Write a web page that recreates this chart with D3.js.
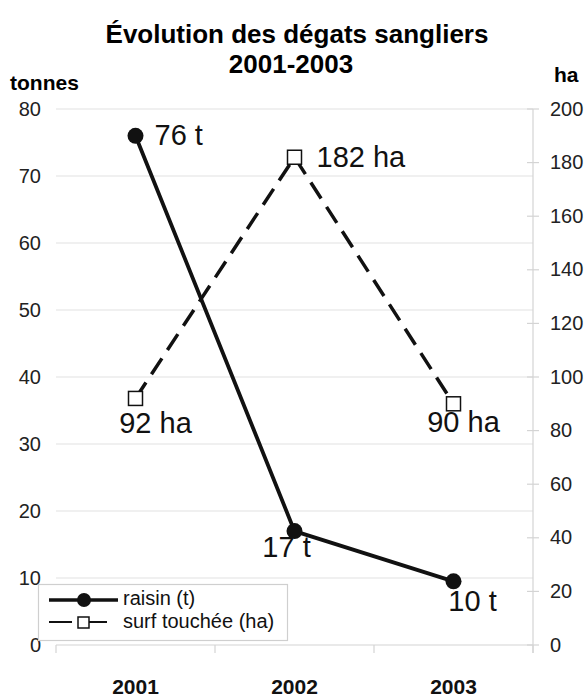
<!DOCTYPE html>
<html>
<head>
<meta charset="utf-8">
<script src="https://cdn.jsdelivr.net/npm/d3@7"></script>
<style>
body { margin: 0; background: #fff; }
text { font-family: "Liberation Sans", Arial, sans-serif; }
</style>
</head>
<body>
<script>
// data
const years = ["2001", "2002", "2003"]
const raisin = [76, 17, 9.5]     // tonnes
const surf = [92, 182, 90]       // ha
const leftTicks = [0, 10, 20, 30, 40, 50, 60, 70, 80]
const rightTicks = [0, 20, 40, 60, 80, 100, 120, 140, 160, 180, 200]

const width = 587, height = 698
const margin = {top: 109, right: 54, bottom: 53, left: 56}

const svg = d3.select("body").append("svg")
    .attr("width", width)
    .attr("height", height)

const x = d3.scaleBand().domain(years).range([margin.left, width - margin.right])
const yL = d3.scaleLinear().domain([0, 80]).range([height - margin.bottom, margin.top])
const yR = d3.scaleLinear().domain([0, 200]).range([height - margin.bottom, margin.top])
const cx = d => x(d) + x.bandwidth() / 2

// grid
svg.append("g").selectAll("line")
    .data(leftTicks.slice(1))
    .enter().append("line")
    .attr("x1", margin.left).attr("x2", width - margin.right)
    .attr("y1", d => yL(d)).attr("y2", d => yL(d))
    .attr("stroke", "#e2e2e2").attr("stroke-width", 1.2)

// left axis labels
svg.append("g").selectAll("text")
    .data(leftTicks)
    .enter().append("text")
    .attr("x", 41).attr("y", d => yL(d) + 6.5)
    .attr("text-anchor", "end")
    .attr("font-size", 20).attr("fill", "#222")
    .text(d => d)

// right axis
const ra = svg.append("g")
ra.append("line")
    .attr("x1", width - margin.right).attr("x2", width - margin.right)
    .attr("y1", yR(200)).attr("y2", yR(0) + 8)
    .attr("stroke", "#d4d4d4").attr("stroke-width", 1.2)
ra.selectAll("line.t").data(rightTicks).enter().append("line")
    .attr("class", "t")
    .attr("x1", width - margin.right - 6).attr("x2", width - margin.right + 6)
    .attr("y1", d => yR(d)).attr("y2", d => yR(d))
    .attr("stroke", "#d4d4d4").attr("stroke-width", 1.2)
ra.selectAll("text").data(rightTicks).enter().append("text")
    .attr("x", width - margin.right + 17).attr("y", d => yR(d) + 6.5)
    .attr("font-size", 20).attr("fill", "#222")
    .text(d => d)

// bottom axis
const ba = svg.append("g")
ba.append("line")
    .attr("x1", margin.left).attr("x2", width - margin.right)
    .attr("y1", yL(0)).attr("y2", yL(0))
    .attr("stroke", "#d4d4d4").attr("stroke-width", 1.2)
ba.selectAll("line.t").data(years.concat(["end"])).enter().append("line")
    .attr("class", "t")
    .attr("x1", d => d == "end" ? width - margin.right : x(d))
    .attr("x2", d => d == "end" ? width - margin.right : x(d))
    .attr("y1", yL(0)).attr("y2", yL(0) + 8)
    .attr("stroke", "#d4d4d4").attr("stroke-width", 1.2)
ba.selectAll("text").data(years).enter().append("text")
    .attr("x", cx).attr("y", 694)
    .attr("text-anchor", "middle")
    .attr("font-size", 21).attr("font-weight", "bold").attr("fill", "#111")
    .text(d => d)

// titles
svg.append("text").attr("x", 297).attr("y", 43)
    .attr("text-anchor", "middle").attr("font-size", 26).attr("font-weight", "bold")
    .text("Évolution des dégats sangliers")
svg.append("text").attr("x", 291).attr("y", 73)
    .attr("text-anchor", "middle").attr("font-size", 26).attr("font-weight", "bold")
    .text("2001-2003")
svg.append("text").attr("x", 10).attr("y", 90)
    .attr("font-size", 21).attr("font-weight", "bold")
    .text("tonnes")
svg.append("text").attr("x", 554).attr("y", 82)
    .attr("font-size", 21).attr("font-weight", "bold")
    .text("ha")

// series
const lineL = d3.line().x((d, i) => cx(years[i])).y(d => yL(d))
const lineR = d3.line().x((d, i) => cx(years[i])).y(d => yR(d))

svg.append("path").datum(surf)
    .attr("d", lineR).attr("fill", "none")
    .attr("stroke", "#111").attr("stroke-width", 3.5)
    .attr("stroke-dasharray", "19 10")

svg.append("path").datum(raisin)
    .attr("d", lineL).attr("fill", "none")
    .attr("stroke", "#111").attr("stroke-width", 3.8)

svg.append("g").selectAll("rect").data(surf).enter().append("rect")
    .attr("x", (d, i) => cx(years[i]) - 7).attr("y", d => yR(d) - 7)
    .attr("width", 14).attr("height", 14)
    .attr("fill", "#fff").attr("stroke", "#111").attr("stroke-width", 1.5)

svg.append("g").selectAll("circle").data(raisin).enter().append("circle")
    .attr("cx", (d, i) => cx(years[i])).attr("cy", d => yL(d))
    .attr("r", 8).attr("fill", "#111")

// data labels
const rOff = [[19, 9, "start"], [-8, 26, "middle"], [19, 30, "middle"]]
svg.append("g").selectAll("text").data(raisin).enter().append("text")
    .attr("x", (d, i) => cx(years[i]) + rOff[i][0])
    .attr("y", (d, i) => yL(d) + rOff[i][1])
    .attr("text-anchor", (d, i) => rOff[i][2])
    .attr("font-size", 29).attr("fill", "#111")
    .text(d => Math.round(d) + " t")

const sOff = [[20, 35, "middle"], [22, 10, "start"], [10, 28, "middle"]]
svg.append("g").selectAll("text").data(surf).enter().append("text")
    .attr("x", (d, i) => cx(years[i]) + sOff[i][0])
    .attr("y", (d, i) => yR(d) + sOff[i][1])
    .attr("text-anchor", (d, i) => sOff[i][2])
    .attr("font-size", 29).attr("fill", "#111")
    .text(d => d + " ha")

// legend
const lg = svg.append("g")
lg.append("rect").attr("x", 38.5).attr("y", 584.5).attr("width", 249).attr("height", 56)
    .attr("fill", "#fff").attr("stroke", "#cfcfcf").attr("stroke-width", 1.2)
lg.append("line").attr("x1", 49).attr("x2", 118).attr("y1", 600).attr("y2", 600)
    .attr("stroke", "#111").attr("stroke-width", 3.5)
lg.append("circle").attr("cx", 84).attr("cy", 600).attr("r", 7).attr("fill", "#111")
lg.append("line").attr("x1", 49).attr("x2", 107).attr("y1", 622).attr("y2", 622)
    .attr("stroke", "#111").attr("stroke-width", 2).attr("stroke-dasharray", "23 12")
lg.append("rect").attr("x", 78).attr("y", 617).attr("width", 11).attr("height", 11)
    .attr("fill", "#fff").attr("stroke", "#111").attr("stroke-width", 1.5)
lg.append("text").attr("x", 123).attr("y", 605).attr("font-size", 20).attr("fill", "#111")
    .text("raisin (t)")
lg.append("text").attr("x", 123).attr("y", 628).attr("font-size", 20).attr("fill", "#111")
    .text("surf touchée (ha)")
</script>
</body>
</html>
